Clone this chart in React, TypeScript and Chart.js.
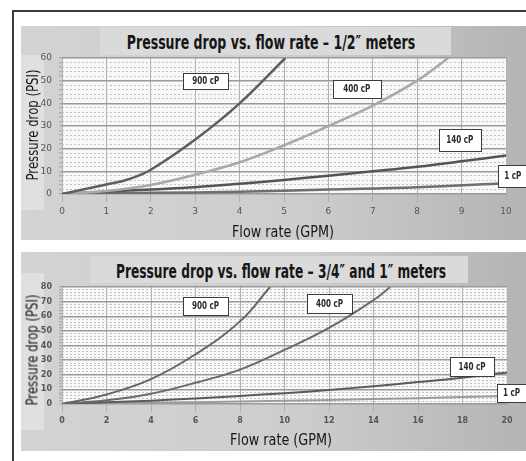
import React, { useEffect, useRef } from 'react';
import { Chart, registerables } from 'chart.js';
Chart.register(...registerables);

// ---- Panel 1: 1/2" meters (x: GPM 0..10, y: PSI 0..60) ----
const p1XRange = [0, 10];
const p1YRange = [0, 60];
const p1_x900 = [0, 1, 1.5, 2, 3, 4, 5.03];
const p1_y900 = [0, 4.2, 6.5, 10.7, 24, 40, 60];
const p1_x400 = [0, 1, 2, 3, 4, 5, 6, 7, 8, 8.7];
const p1_y400 = [0, 1.3, 4, 8.5, 14, 21.5, 30, 39, 50, 60];
const p1_x140 = [0, 1, 2, 3, 4, 5, 6, 7, 8, 9, 10];
const p1_y140 = [0, 1, 2, 3, 4.5, 6.2, 8.1, 10, 12, 14.4, 17];
const p1_x1 = [0, 2, 4, 6, 8, 10];
const p1_y1 = [0, 0.5, 1, 2, 3, 4.7];

// ---- Panel 2: 3/4" and 1" meters (x: GPM 0..20, y: PSI 0..80) ----
const p2XRange = [0, 20];
const p2YRange = [0, 80];
const p2_x900 = [0, 2, 4, 6, 8, 9.35];
const p2_y900 = [0, 6.5, 17, 34, 56.5, 80];
const p2_x400 = [0, 2, 4, 6, 8, 10, 12, 14, 14.75];
const p2_y400 = [0, 2.5, 7, 14.5, 23.5, 37, 52, 71, 80];
const p2_x140 = [0, 2, 4, 6, 8, 10, 12, 14, 16, 18, 20];
const p2_y140 = [0, 1.2, 2.3, 3.8, 5.5, 7.4, 9.6, 12.2, 15, 18, 21.5];
const p2_x1 = [0, 4, 8, 12, 16, 20];
const p2_y1 = [0, 0.8, 1.7, 2.8, 4, 5.5];

const seriesNames = ['900 cP', '400 cP', '140 cP', '1 cP'];
const chartTitles = ['Pressure drop vs. flow rate – 1/2″ meters', 'Pressure drop vs. flow rate – 3/4″ and 1″ meters'];
const xTitle = 'Flow rate (GPM)';
const yTitle = 'Pressure drop (PSI)';

const SANS = '"DejaVu Sans", sans-serif';

const toPoints = (xs: number[], ys: number[]) => xs.map((x, i) => ({ x, y: ys[i] }));

const plotBg = {
  id: 'plotBg',
  beforeDraw(chart: any, _a: any, opts: any) {
    const { ctx, chartArea: a } = chart;
    ctx.save();
    ctx.fillStyle = opts.color;
    ctx.fillRect(a.left, a.top, a.right - a.left, a.bottom - a.top);
    ctx.restore();
  },
};

const boxLabels = {
  id: 'boxLabels',
  afterDatasetsDraw(chart: any, _a: any, opts: any) {
    const { ctx } = chart;
    const sx = chart.scales.x;
    const sy = chart.scales.y;
    for (const it of opts.items) {
      const cx = sx.getPixelForValue(it.x);
      const cy = sy.getPixelForValue(it.y);
      const l = Math.round(cx - it.w / 2) + 0.5;
      const t = Math.round(cy - it.h / 2) + 0.5;
      ctx.save();
      ctx.fillStyle = '#ffffff';
      ctx.strokeStyle = '#3c3c3c';
      ctx.lineWidth = 1;
      ctx.fillRect(l, t, it.w, it.h);
      ctx.strokeRect(l, t, it.w, it.h);
      ctx.fillStyle = '#2a2a2a';
      ctx.font = opts.font;
      ctx.textAlign = 'center';
      ctx.textBaseline = 'middle';
      ctx.translate(cx, cy + 0.5);
      ctx.scale(0.72, 1);
      ctx.fillText(it.text, 0, 0);
      ctx.restore();
    }
  },
};

type PanelProps = {
  width: number;
  height: number;
  xMax: number;
  xStep: number;
  yMax: number;
  series: { xs: number[]; ys: number[]; color: string; width: number }[];
  labels: { text: string; x: number; y: number; w: number; h: number }[];
  padTop: number;
  padRight: number;
  xAxisH: number;
  tickFont: any;
};

function Panel(p: PanelProps) {
  const ref = useRef<HTMLCanvasElement>(null);
  useEffect(() => {
    const chart = new Chart(ref.current as HTMLCanvasElement, {
      type: 'line',
      data: {
        datasets: p.series.map((s, i) => ({
          label: seriesNames[i],
          data: toPoints(s.xs, s.ys),
          borderColor: s.color,
          borderWidth: s.width,
          pointRadius: 0,
          fill: false,
          tension: 0.4,
        })),
      },
      options: {
        animation: false,
        responsive: false,
        maintainAspectRatio: false,
        layout: { padding: { top: p.padTop, right: p.padRight, left: 0, bottom: 0 } },
        plugins: {
          legend: { display: false },
          tooltip: { enabled: false },
          title: { display: false },
          plotBg: { color: '#f8f8f8' },
          boxLabels: { items: p.labels, font: `bold 10px ${SANS}` },
        } as any,
        scales: {
          x: {
            type: 'linear',
            min: 0,
            max: p.xMax,
            ticks: { stepSize: p.xStep, font: p.tickFont, color: '#555', padding: 4, maxRotation: 0 },
            grid: { color: '#b0b0b0', lineWidth: 1, tickLength: 8, tickColor: '#b0b0b0' },
            border: { display: false },
            afterFit: (s: any) => { s.height = p.xAxisH; },
          },
          y2: {
            type: 'linear',
            position: 'left',
            min: 0,
            max: p.yMax,
            weight: 0,
            ticks: { display: false, stepSize: 2, autoSkip: false },
            grid: {
              drawTicks: false,
              color: (c: any) => (c.tick && c.tick.value % 10 === 0 ? 'rgba(0,0,0,0)' : '#c2c2c2'),
              lineWidth: 1,
            },
            border: { display: false, dash: [2, 2] },
            afterFit: (s: any) => { s.width = 0; },
          },
          y: {
            type: 'linear',
            position: 'left',
            min: 0,
            max: p.yMax,
            weight: 1,
            ticks: {
              stepSize: 2,
              autoSkip: false,
              font: p.tickFont,
              color: '#555',
              padding: 7,
              callback: (v: any) => (Number(v) % 10 === 0 ? String(v) : ''),
            },
            grid: {
              color: (c: any) => (c.tick && c.tick.value % 10 === 0 ? '#9a9a9a' : 'rgba(0,0,0,0)'),
              lineWidth: 1.5,
              tickLength: 3,
              tickColor: '#a0a0a0',
              tickWidth: 1,
            },
            border: { display: false },
            afterFit: (s: any) => { s.width = 41; },
          },
        },
      } as any,
      plugins: [plotBg, boxLabels],
    });
    return () => chart.destroy();
  }, []);
  return <canvas ref={ref} width={p.width} height={p.height} style={{ width: p.width, height: p.height, display: 'block' }} />;
}

const abs = (l: number, t: number, w: number, h: number, extra: any = {}) => ({
  position: 'absolute' as const, left: l, top: t, width: w, height: h, ...extra,
});

function CText(props: { x: number; y: number; text: string; size: number; bold?: boolean; sx: number; rot?: boolean }) {
  return (
    <div
      style={{
        position: 'absolute',
        left: props.x,
        top: props.y,
        fontFamily: SANS,
        fontSize: props.size,
        fontWeight: props.bold ? 'bold' : 'normal',
        color: '#161616',
        whiteSpace: 'nowrap',
        lineHeight: 1,
        transform: `translate(-50%, -50%)${props.rot ? ' rotate(-90deg)' : ''} scaleX(${props.sx})`,
      }}
    >
      {props.text}
    </div>
  );
}

export default function App() {
  const p1Series = [
    { xs: p1_x900, ys: p1_y900, color: '#5e5e5e', width: 2.5 },
    { xs: p1_x400, ys: p1_y400, color: '#a8a8a8', width: 2.5 },
    { xs: p1_x140, ys: p1_y140, color: '#545454', width: 2.5 },
    { xs: p1_x1, ys: p1_y1, color: '#6e6e6e', width: 2.5 },
  ];
  const p2Series = [
    { xs: p2_x900, ys: p2_y900, color: '#666666', width: 2 },
    { xs: p2_x400, ys: p2_y400, color: '#6a6a6a', width: 2 },
    { xs: p2_x140, ys: p2_y140, color: '#5a5a5a', width: 2 },
    { xs: p2_x1, ys: p2_y1, color: '#9c9c9c', width: 2 },
  ];
  const p1Labels = [
    { text: seriesNames[0], x: 3.24, y: 49.8, w: 45, h: 16 },
    { text: seriesNames[1], x: 6.64, y: 46.5, w: 48, h: 18 },
    { text: seriesNames[2], x: 8.96, y: 24, w: 42, h: 22 },
    { text: seriesNames[3], x: 10.15, y: 8.1, w: 29, h: 22 },
  ];
  const p2Labels = [
    { text: seriesNames[0], x: 6.45, y: 67, w: 45, h: 18 },
    { text: seriesNames[1], x: 12.02, y: 68.7, w: 45, h: 19 },
    { text: seriesNames[2], x: 18.43, y: 25.6, w: 44, h: 19 },
    { text: seriesNames[3], x: 20.2, y: 7.5, w: 29, h: 18 },
  ];
  const bg = 'linear-gradient(to right, #d3d3d3 0%, #cdcdcd 55%, #b4b4b4 100%)';
  return (
    <div style={abs(0, 0, 526, 461, { position: 'fixed', background: '#fff', overflow: 'hidden' })}>
      <div style={abs(12, 10, 540, 480, { borderLeft: '2px solid #3a3a3a', borderTop: '2px solid #3a3a3a' })} />

      {/* Panel 1 */}
      <div style={abs(21, 26, 505, 214, { background: bg })} />
      <div style={abs(21, 55, 23, 155, { background: '#e0e0e0' })} />
      <div style={abs(100, 27, 351, 28, { background: '#dadada' })} />
      <CText x={271} y={42} text={chartTitles[0]} size={19} bold sx={0.66} />
      <div style={abs(21, 26, 505, 214)}>
        <Panel
          width={505} height={214}
          xMax={p1XRange[1]} xStep={1} yMax={p1YRange[1]}
          series={p1Series} labels={p1Labels}
          padTop={32} padRight={20} xAxisH={46}
          tickFont={{ family: SANS, size: 9 }}
        />
      </div>
      <CText x={33} y={125} text={yTitle} size={15} sx={0.78} rot />
      <CText x={283} y={232} text={xTitle} size={16} sx={0.8} />

      {/* Panel 2 */}
      <div style={abs(21, 252, 505, 199, { background: bg })} />
      <div style={abs(21, 273, 23, 157, { background: '#e0e0e0' })} />
      <div style={abs(90, 256, 378, 27, { background: '#dadada' })} />
      <CText x={281} y={271} text={chartTitles[1]} size={19} bold sx={0.645} />
      <div style={abs(21, 252, 505, 199)}>
        <Panel
          width={505} height={199}
          xMax={p2XRange[1]} xStep={2} yMax={p2YRange[1]}
          series={p2Series} labels={p2Labels}
          padTop={35} padRight={19} xAxisH={47}
          tickFont={{ family: SANS, size: 8, weight: 'bold' }}
        />
      </div>
      <CText x={33} y={350} text={yTitle} size={15} sx={0.78} rot />
      <CText x={281} y={440} text={xTitle} size={16} sx={0.8} />
    </div>
  );
}
